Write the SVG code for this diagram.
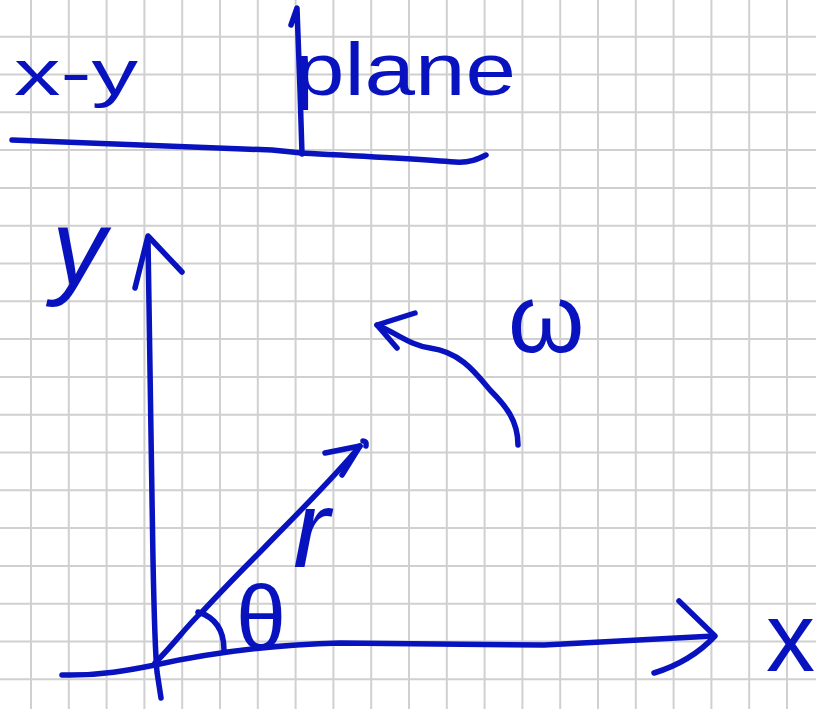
<svg xmlns="http://www.w3.org/2000/svg" width="816" height="709" viewBox="0 0 816 709">
  <style>
    .grid { stroke: #d0d0d0; stroke-width: 2; fill: none; }
    .ink { stroke: #0812be; stroke-width: 5.5; fill: none; stroke-linecap: round; stroke-linejoin: round; }
    .hand { fill: #0812be; font-family: "Liberation Sans", "DejaVu Sans", sans-serif; }
  </style>
  <rect width="816" height="709" fill="#ffffff"/>
  <g id="grid">
    <path class="grid" d="M31,0 V709 M68.8,0 V709 M106.6,0 V709 M144.4,0 V709 M182.2,0 V709 M220,0 V709 M257.8,0 V709 M295.6,0 V709 M333.4,0 V709 M371.2,0 V709 M409,0 V709 M446.8,0 V709 M484.6,0 V709 M522.4,0 V709 M560.2,0 V709 M598,0 V709 M635.8,0 V709 M673.6,0 V709 M711.4,0 V709 M749.2,0 V709 M787,0 V709 M0,36.7 H816 M0,74.5 H816 M0,112.3 H816 M0,150.1 H816 M0,187.9 H816 M0,225.7 H816 M0,263.5 H816 M0,301.3 H816 M0,339.1 H816 M0,376.9 H816 M0,414.7 H816 M0,452.5 H816 M0,490.3 H816 M0,528.1 H816 M0,565.9 H816 M0,603.7 H816 M0,641.5 H816 M0,679.3 H816"/>
  </g>
  <g id="title">
    <text class="hand" x="14" y="95" font-size="64" textLength="124" lengthAdjust="spacingAndGlyphs">x-y</text>
    <path class="ink" d="M291,25 L297,8 L300,90 L302,154"/>
    <text class="hand" x="294" y="95" font-size="74" textLength="222" lengthAdjust="spacingAndGlyphs">plane</text>
    <path class="ink" d="M12,140 L272,150 L302,153 C360,156 420,159 455,162 C470,163 478,159 486,155"/>
  </g>
  <g id="axes">
    <path class="ink" d="M148,240 C150,330 151,450 153,560 C154,610 155,650 157,672 L161,698"/>
    <path class="ink" d="M135,288 L148,236 L182,272"/>
    <path class="ink" d="M62,675 C100,676 130,670 155,665 C200,655 260,645 340,643 L544,645 L714,636"/>
    <path class="ink" d="M679,601 L715,636 C700,652 680,665 654,673"/>
    <text class="hand" x="52" y="285" font-size="108" font-style="italic">y</text>
    <text class="hand" x="766" y="671" font-size="98">x</text>
  </g>
  <g id="radius">
    <path class="ink" d="M155,663 C175,643 190,622 202,612 C230,582 250,562 262,550 C290,521 330,482 360,446"/>
    <path class="ink" d="M325,453 L360,446 L342,475"/>
    <path class="ink" d="M363,441 Q367,441 366,446"/>
    <path class="ink" d="M198,612 Q224,620 224,650"/>
    <text class="hand" x="293" y="567" font-size="110" font-style="italic">r</text>
    <text class="hand" x="236" y="649" font-size="90">θ</text>
  </g>
  <g id="rotation">
    <path class="ink" d="M518,445 C518,420 505,405 490,390 C475,372 460,352 430,348 C410,345 400,335 377,325"/>
    <path class="ink" d="M415,313 L377,325 L397,348"/>
    <text class="hand" x="508" y="352" font-size="98">ω</text>
  </g>
</svg>
